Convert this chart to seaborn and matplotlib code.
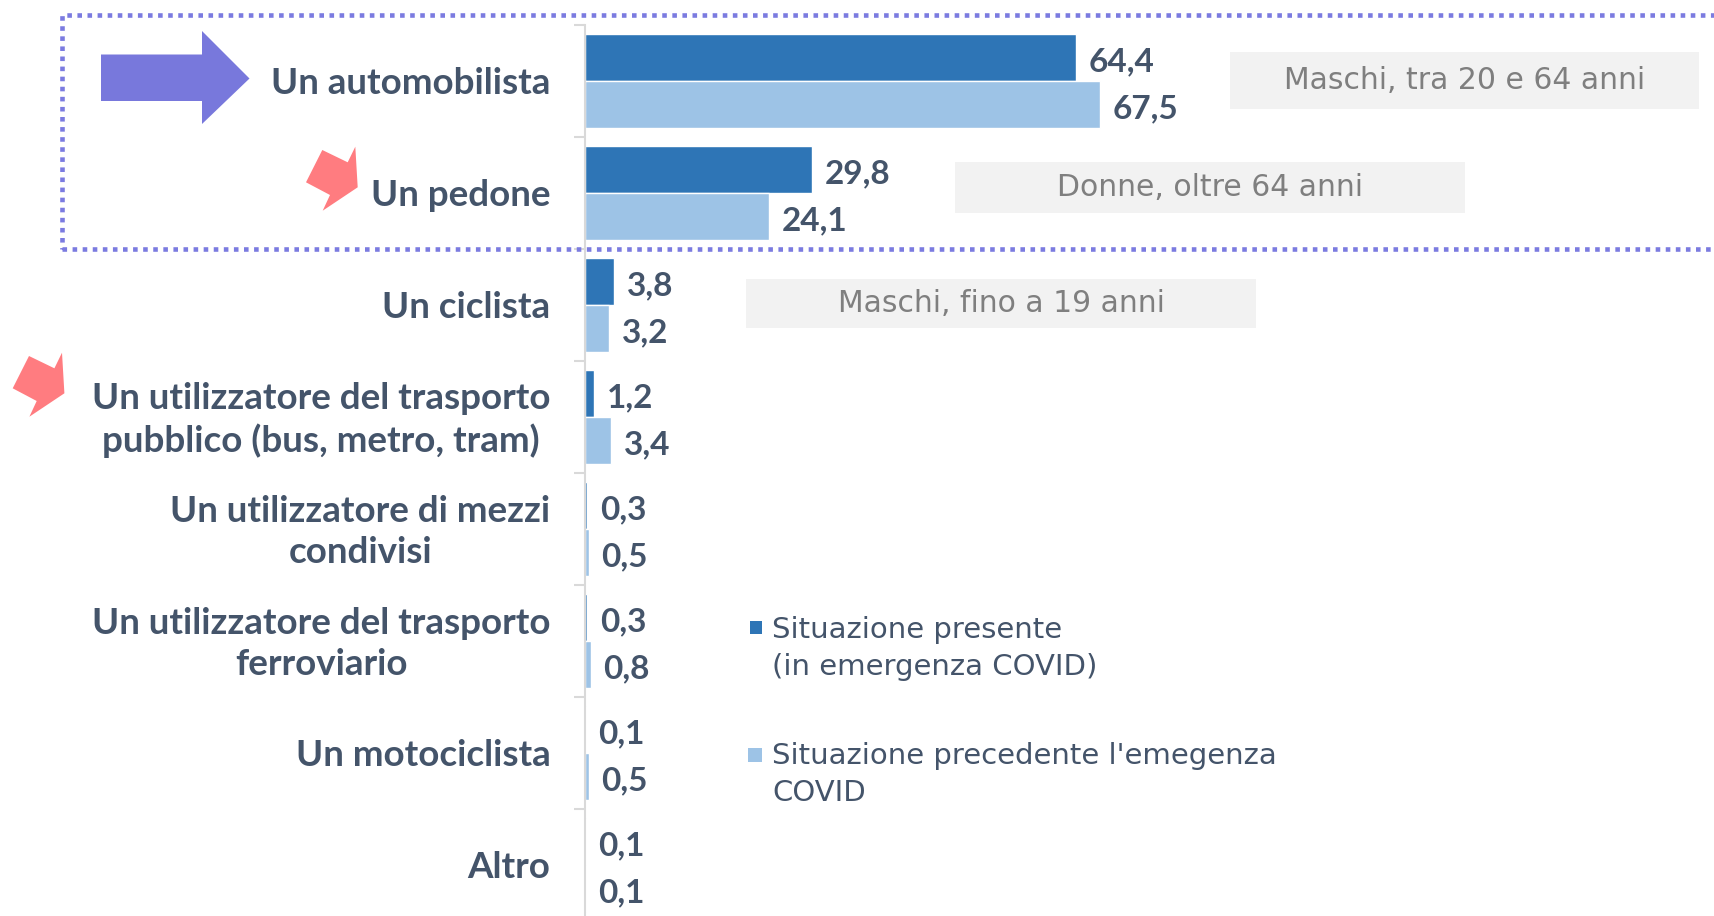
import matplotlib
matplotlib.use("Agg")
import matplotlib.pyplot as plt
import matplotlib.transforms as mtransforms
import seaborn as sns
import pandas as pd
import numpy as np
from matplotlib.patches import Polygon, Rectangle

# ---------------- data ----------------
categories = [
    "Un automobilista",
    "Un pedone",
    "Un ciclista",
    "Un utilizzatore del trasporto\npubblico (bus, metro, tram)",
    "Un utilizzatore di mezzi\ncondivisi",
    "Un utilizzatore del trasporto\nferroviario",
    "Un motociclista",
    "Altro",
]
present = [64.4, 29.8, 3.8, 1.2, 0.3, 0.3, 0.1, 0.1]
before = [67.5, 24.1, 3.2, 3.4, 0.5, 0.8, 0.5, 0.1]
series_names = [
    "Situazione presente\n(in emergenza COVID)",
    "Situazione precedente l'emegenza\nCOVID",
]
annotations = ["Maschi, tra 20 e 64 anni", "Donne, oltre 64 anni", "Maschi, fino a 19 anni"]

# ---------------- style ----------------
sns.set_theme(style="white")
plt.rcParams["font.family"] = ["DejaVu Sans"]

DARK = "#2E75B6"
LIGHT = "#9DC3E6"
TXT = "#44546A"
GRID = "#D9D9D9"
palette = [DARK, LIGHT]

W, H = 1715, 916
fig = plt.figure(figsize=(W / 100, H / 100), dpi=100)


def fx(x):
    return x / W


def fy(y):
    return (H - y) / H


ax_left, ax_top, ax_bottom = 585, 24.7, 921
ax = fig.add_axes([fx(ax_left), fy(ax_bottom), (W - ax_left) / W, (ax_bottom - ax_top) / H])

df = pd.DataFrame({
    "Categoria": categories * 2,
    "Serie": [series_names[0]] * len(categories) + [series_names[1]] * len(categories),
    "Valore": present + before,
})

sns.barplot(data=df, y="Categoria", x="Valore", hue="Serie", order=categories,
            hue_order=series_names, palette=palette, saturation=1, width=0.84, orient="h",
            errorbar=None, edgecolor="white", linewidth=1.0, ax=ax, legend=False)

px_per_unit = 7.63
ax.set_xlim(0, (W - ax_left) / px_per_unit)
ax.set_ylim(len(categories) - 0.5, -0.5)

for s in ["top", "right", "bottom"]:
    ax.spines[s].set_visible(False)
ax.spines["left"].set_color(GRID)
ax.spines["left"].set_linewidth(1.5)
ax.set_xticks([])
ax.set_xlabel("")
ax.set_ylabel("")
ax.set_yticks(np.arange(-0.5, len(categories), 1.0), minor=True)
ax.tick_params(axis="y", which="major", length=0, pad=25, labelsize=26.5, labelcolor=TXT)
ax.tick_params(axis="y", which="minor", length=8, width=1.5, color=GRID, direction="out", left=True)
lift = mtransforms.ScaledTranslation(0, 4 / 100, fig.dpi_scale_trans)
for lbl in ax.get_yticklabels():
    lbl.set_family(["Lato", "DejaVu Sans"])
    lbl.set_fontweight("bold")
    lbl.set_multialignment("center")
    lbl.set_linespacing(1.3)
    if "\n" in lbl.get_text():
        lbl.set_transform(lbl.get_transform() + lift)

for cont, vals in zip(ax.containers, [present, before]):
    texts = ax.bar_label(cont, labels=[f"{v:.1f}".replace(".", ",") for v in vals], padding=9,
                         fontsize=24, fontweight="bold", color=TXT, family=["Lato", "DejaVu Sans"])
    for t in texts:
        t.xyann = (9, -3)

# legend (drawn as markers + text)
leg_items = [((750, 621, 762, 634), 772, 616), ((748, 748, 762, 762), 772, 742)]
for (mk, tx, ty), name, col in zip(leg_items, series_names, palette):
    x0, y0, x1, y1 = mk
    fig.add_artist(Rectangle((fx(x0), fy(y1)), (x1 - x0) / W, (y1 - y0) / H,
                             transform=fig.transFigure, facecolor=col, edgecolor="none"))
    fig.text(fx(tx), fy(ty), name, ha="left", va="top", fontsize=21, color=TXT,
             linespacing=1.42)

# annotation boxes
boxes = [(1230, 52, 1699, 109), (955, 162, 1465, 213), (746, 279, 1256, 328)]
for (x0, y0, x1, y1), txt in zip(boxes, annotations):
    fig.add_artist(Rectangle((fx(x0), fy(y1)), (x1 - x0) / W, (y1 - y0) / H,
                             transform=fig.transFigure, facecolor="#F2F2F2", edgecolor="none"))
    fig.text(fx((x0 + x1) / 2), fy((y0 + y1) / 2), txt, ha="center", va="center",
             fontsize=21.5, color="#7F7F7F")

# dotted highlight box
fig.add_artist(Rectangle((fx(62), fy(249)), (1760 - 62) / W, (249 - 15) / H,
                         transform=fig.transFigure, facecolor="none", edgecolor="#7B7BE0",
                         linewidth=3.3, linestyle=(0, (1, 1.2)), clip_on=False))

# big purple arrow
big = [(101, 54.5), (202, 54.5), (202, 31), (249.5, 78.5), (202, 124), (202, 101), (101, 101)]
fig.add_artist(Polygon([(fx(x), fy(y)) for x, y in big], closed=True,
                       transform=fig.transFigure, facecolor="#7878DC", edgecolor="none"))

# pink arrows
pink = [(306, 182.3), (322.3, 150), (347.7, 162.3), (355.3, 146.7), (357.7, 187.3),
        (322.7, 210.7), (330, 195)]
for dx, dy in [(0, 0), (-293.3, 206)]:
    fig.add_artist(Polygon([(fx(x + dx), fy(y + dy)) for x, y in pink], closed=True,
                           transform=fig.transFigure, facecolor="#FF7C80", edgecolor="none"))

fig.savefig("out.png", dpi=100)
